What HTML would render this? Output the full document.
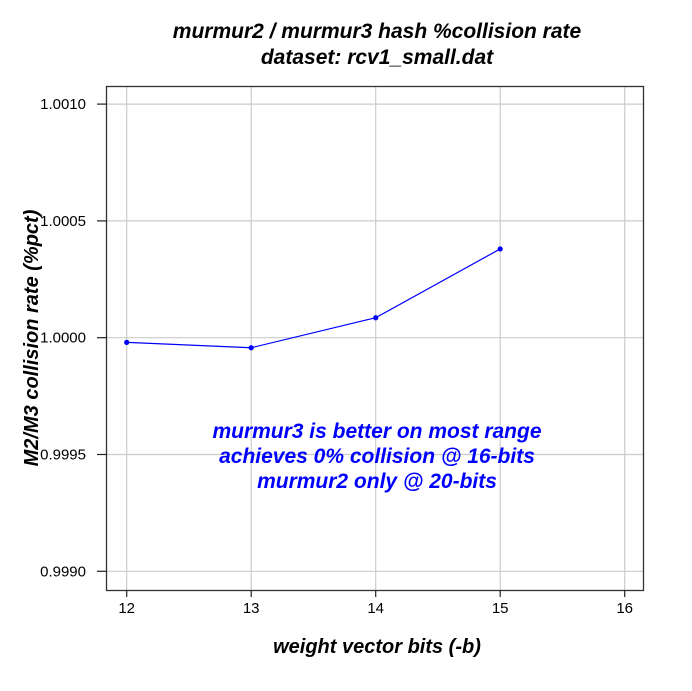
<!DOCTYPE html>
<html><head><meta charset="utf-8"><style>
body{margin:0;background:#fff;width:692px;height:686px;overflow:hidden}
text{font-family:"Liberation Sans",sans-serif}
</style></head><body>
<svg id="c" width="692" height="686">
<text x="377" y="38" text-anchor="middle" font-size="21" font-weight="bold" font-style="italic">murmur2 / murmur3 hash %collision rate</text>
<text x="377" y="64" text-anchor="middle" font-size="21" font-weight="bold" font-style="italic">dataset: rcv1_small.dat</text>
<text x="377" y="653" text-anchor="middle" font-size="20" font-weight="bold" font-style="italic">weight vector bits (-b)</text>
<text transform="translate(38,338) rotate(-90)" text-anchor="middle" font-size="20" font-weight="bold" font-style="italic">M2/M3 collision rate (%pct)</text>
<g id="grid"></g><g id="series"></g>
<rect x="106.5" y="86.5" width="537" height="504" fill="none" stroke="#333" stroke-width="1.3"/>
<g id="axes"></g>
<text x="377" y="438" text-anchor="middle" font-size="21" font-weight="bold" font-style="italic" fill="#0000ff">murmur3 is better on most range</text>
<text x="377" y="463" text-anchor="middle" font-size="21" font-weight="bold" font-style="italic" fill="#0000ff">achieves 0% collision @ 16-bits</text>
<text x="377" y="488" text-anchor="middle" font-size="21" font-weight="bold" font-style="italic" fill="#0000ff">murmur2 only @ 20-bits</text>
</svg>
<script>
const xCats=[12,13,14,15];
const yVals=[0.99998,0.999957,1.0000855,1.00038];
const xTicks=[12,13,14,15,16];
const yTicks=[0.9990,0.9995,1.0000,1.0005,1.0010];
const yTickLabels=["0.9990","0.9995","1.0000","1.0005","1.0010"];
const NS="http://www.w3.org/2000/svg";
function X(v){return 126.7+(v-12)*124.5;}
function Y(v){return 337.7-(v-1)/0.0005*116.8;}
function mk(t,a,p){const e=document.createElementNS(NS,t);for(const k in a)e.setAttribute(k,a[k]);p.appendChild(e);return e;}
const g=document.getElementById('grid'),ax=document.getElementById('axes'),s=document.getElementById('series');
xTicks.forEach(t=>{
 const l=mk('line',{x1:X(t),x2:X(t),y1:87,y2:590,stroke:'#ccc','stroke-width':1.2},g);
 
 
 const k=mk('line',{x1:X(t),x2:X(t),y1:590,y2:597,stroke:'#222','stroke-width':1.2},ax);
 
 
 const tx=mk('text',{x:X(t),y:613,'text-anchor':'middle','font-size':15},ax);tx.textContent=t;
 
 
});
yTicks.forEach((t,i)=>{
 const l=mk('line',{x1:107,x2:643,y1:Y(t),y2:Y(t),stroke:'#ccc','stroke-width':1.2},g);
 
 
 const k=mk('line',{x1:97,x2:107,y1:Y(t),y2:Y(t),stroke:'#222','stroke-width':1.2},ax);
 
 
 const tx=mk('text',{x:86,y:Y(t)+5,'text-anchor':'end','font-size':15},ax);tx.textContent=yTickLabels[i];
 
 
});
const pl=mk('polyline',{points:xCats.map((x,i)=>X(x)+','+Y(yVals[i])).join(' '),fill:'none',stroke:'#0000ff','stroke-width':1.2},s);


xCats.forEach((x,i)=>{
 const c=mk('circle',{cx:X(x),cy:Y(yVals[i]),r:2.6,fill:'#0000ff'},s);
 
 
});
</script>
</body></html>
